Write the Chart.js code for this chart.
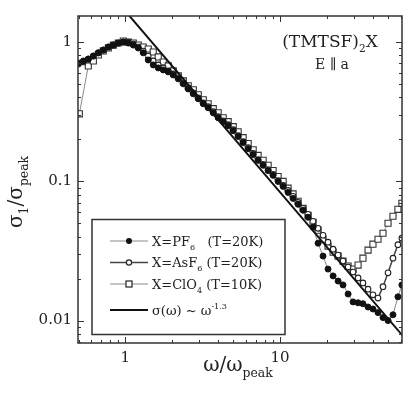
<!DOCTYPE html>
<html>
<head>
<meta charset="utf-8">
<script src="https://cdn.jsdelivr.net/npm/chart.js@4.4.1/dist/chart.umd.min.js"></script>
<style>
  html, body { margin: 0; padding: 0; background: #fff; }
  #wrap { position: relative; width: 415px; height: 399px; }
</style>
</head>
<body>
<div id="wrap"><canvas id="chart" width="415" height="399"></canvas></div>
<script>
// === data (sigma_1 / sigma_peak vs omega / omega_peak) ===

// frequency grid shared by PF6 and AsF6
const omega = [0.498, 0.536, 0.577, 0.622, 0.670, 0.721, 0.777, 0.837, 0.901, 0.971,
  1.046, 1.126, 1.213, 1.306, 1.407, 1.516, 1.633, 1.759, 1.894, 2.04,
  2.20, 2.37, 2.55, 2.75, 2.96, 3.19, 3.43, 3.70, 3.98, 4.29,
  4.62, 4.98, 5.36, 5.77, 6.22, 6.70, 7.21, 7.77, 8.37, 9.01,
  9.71, 10.46, 11.26, 12.13, 13.07, 14.08, 15.16, 16.33, 17.59, 18.94,
  20.4, 22.0, 23.7, 25.5, 27.5, 29.6, 31.9, 34.3, 37.0, 39.8,
  42.9, 46.2, 49.8, 53.6, 57.7, 61.2];

// X=PF6 (T=20K)
const pf6 = [0.704, 0.728, 0.752, 0.790, 0.833, 0.872, 0.917, 0.947, 0.979, 0.995,
  0.979, 0.947, 0.902, 0.833, 0.740, 0.682, 0.649, 0.628, 0.608, 0.578,
  0.542, 0.499, 0.459, 0.423, 0.390, 0.359, 0.336, 0.309, 0.285, 0.267,
  0.250, 0.230, 0.209, 0.189, 0.171, 0.155, 0.141, 0.130, 0.119, 0.110,
  0.0995, 0.0917, 0.0830, 0.0752, 0.0682, 0.0618, 0.0551, 0.0467, 0.0359, 0.0290,
  0.0234, 0.0209, 0.0192, 0.0180, 0.0155, 0.0136, 0.0134, 0.0132, 0.0125, 0.0121,
  0.0114, 0.0105, 0.0100, 0.0110, 0.0148, 0.0180];

// X=AsF6 (T=20K)
const asf6 = [0.693, 0.716, 0.752, 0.790, 0.833, 0.872, 0.917, 0.947, 0.979, 0.995,
  0.995, 0.963, 0.917, 0.858, 0.790, 0.728, 0.682, 0.649, 0.618, 0.588,
  0.551, 0.507, 0.467, 0.430, 0.396, 0.365, 0.342, 0.315, 0.290, 0.271,
  0.254, 0.234, 0.212, 0.192, 0.174, 0.158, 0.143, 0.132, 0.121, 0.112,
  0.101, 0.0932, 0.0858, 0.0778, 0.0704, 0.0638, 0.0578, 0.0515, 0.0459, 0.0409,
  0.0365, 0.0325, 0.0295, 0.0267, 0.0242, 0.0223, 0.0202, 0.0186, 0.0168, 0.0153,
  0.0145, 0.0175, 0.0220, 0.0280, 0.0350, 0.0390];

// X=ClO4 (T=10K)
const clo4Omega = [0.505, 0.577, 0.622, 0.670, 0.721, 0.777, 0.837, 0.901, 0.971,
  1.046, 1.126, 1.213, 1.306, 1.407, 1.516, 1.633, 1.759, 1.894, 2.04,
  2.20, 2.37, 2.55, 2.75, 2.96, 3.19, 3.43, 3.70, 3.98, 4.29,
  4.62, 4.98, 5.36, 5.77, 6.22, 6.70, 7.21, 7.77, 8.37, 9.01,
  9.71, 10.46, 11.26, 12.13, 13.07, 14.08, 15.16, 16.33, 17.59, 18.94,
  20.4, 22.0, 23.7, 25.5, 27.5, 29.6, 31.9, 34.3, 37.0, 39.8,
  42.9, 46.2, 49.8, 53.6, 57.7, 61.2];
const clo4 = [0.304, 0.671, 0.728, 0.804, 0.858, 0.902, 0.947, 0.979, 1.012,
  0.995, 0.979, 0.947, 0.917, 0.887, 0.844, 0.778, 0.716, 0.671, 0.618,
  0.569, 0.524, 0.483, 0.452, 0.416, 0.383, 0.359, 0.331, 0.309, 0.285,
  0.267, 0.246, 0.226, 0.205, 0.186, 0.168, 0.153, 0.141, 0.130, 0.119,
  0.108, 0.0995, 0.0890, 0.0810, 0.0716, 0.0638, 0.0569, 0.0507, 0.0445, 0.0383,
  0.0342, 0.0309, 0.0290, 0.0267, 0.0246, 0.0234, 0.0250, 0.0280, 0.0320, 0.0353,
  0.0383, 0.0423, 0.0499, 0.0560, 0.0628, 0.0693];

// power law sigma(omega) ~ omega^-1.3 (end points)
const lawOmega = [1.0, 61.5];
const lawSigma = [1.66, 0.00785];

// axes
const xRange = [0.495, 61.3];
const yRange = [0.0069, 1.53];
const xMajor = [1, 10];
const yMajor = [0.01, 0.1, 1];
const xTicks = [0.5, 0.6, 0.7, 0.8, 0.9, 1, 2, 3, 4, 5, 6, 7, 8, 9, 10, 20, 30, 40, 50, 60];
const yTicks = [0.007, 0.008, 0.009, 0.01, 0.02, 0.03, 0.04, 0.05, 0.06, 0.07, 0.08, 0.09,
  0.1, 0.2, 0.3, 0.4, 0.5, 0.6, 0.7, 0.8, 0.9, 1];

const FONT = "'DejaVu Serif', 'Liberation Serif', serif";
const INK = "#222";

const pts = (xs, ys) => xs.map((v, i) => ({ x: v, y: ys[i] }));

// text with sub/superscript parts: [[text, ''|'sub'|'sup'], ...]
function richText(ctx, parts, x, y, size, align) {
  const small = size * 0.62;
  const widths = parts.map(([t, k]) => {
    ctx.font = `${k ? small : size}px ${FONT}`;
    return ctx.measureText(t).width;
  });
  const total = widths.reduce((s, w) => s + w, 0);
  let cx = align === "center" ? x - total / 2 : x;
  ctx.textAlign = "left";
  ctx.textBaseline = "alphabetic";
  parts.forEach(([t, k], i) => {
    ctx.font = `${k ? small : size}px ${FONT}`;
    const dy = k === "sub" ? size * 0.32 : k === "sup" ? -size * 0.42 : 0;
    ctx.fillText(t, cx, y + dy);
    cx += widths[i];
  });
}

function seg(ctx, x1, y1, x2, y2) {
  ctx.beginPath();
  ctx.moveTo(x1, y1);
  ctx.lineTo(x2, y2);
  ctx.stroke();
}

// inward ticks on all four sides + frame
const framePlugin = {
  id: "frame",
  afterDatasetsDraw(chart) {
    const { ctx, chartArea: a, scales: { x, y } } = chart;
    ctx.save();
    ctx.strokeStyle = "#333";
    ctx.lineWidth = 1;
    xTicks.forEach(v => {
      if (v < xRange[0] || v > xRange[1]) return;
      const px = Math.round(x.getPixelForValue(v)) + 0.5;
      const len = xMajor.includes(v) ? 6 : 3;
      seg(ctx, px, a.bottom, px, a.bottom - len);
      seg(ctx, px, a.top, px, a.top + len);
    });
    yTicks.forEach(v => {
      if (v < yRange[0] || v > yRange[1]) return;
      const py = Math.round(y.getPixelForValue(v)) + 0.5;
      const len = yMajor.includes(v) ? 6 : 3;
      seg(ctx, a.left, py, a.left + len, py);
      seg(ctx, a.right, py, a.right - len, py);
    });
    ctx.lineWidth = 1.5;
    ctx.strokeRect(a.left, a.top, a.right - a.left, a.bottom - a.top);
    ctx.restore();
  },
};

// labels, axis titles and legend box
const textPlugin = {
  id: "texts",
  afterDraw(chart) {
    const { ctx } = chart;
    ctx.save();
    ctx.fillStyle = INK;

    richText(ctx, [["(TMTSF)", ""], ["2", "sub"], ["X", ""]], 330, 47, 17, "center");
    richText(ctx, [["E \u2225 a", ""]], 332, 69, 14, "center");

    richText(ctx, [["\u03c9/\u03c9", ""], ["peak", "sub"]], 238, 371, 20, "center");

    ctx.save();
    ctx.translate(22, 192);
    ctx.rotate(-Math.PI / 2);
    richText(ctx, [["\u03c3", ""], ["1", "sub"], ["/\u03c3", ""], ["peak", "sub"]], 0, 0, 20, "center");
    ctx.restore();

    // legend
    const box = { l: 92, t: 219.5, r: 285, b: 334.5 };
    ctx.fillStyle = "#fff";
    ctx.fillRect(box.l, box.t, box.r - box.l, box.b - box.t);
    ctx.strokeStyle = "#333";
    ctx.lineWidth = 1.5;
    ctx.strokeRect(box.l, box.t, box.r - box.l, box.b - box.t);

    const rows = [
      { y: 241, color: "#8a8a8a", w: 1, mark: "dot", parts: [["X=PF", ""], ["6", "sub"], ["   (T=20K)", ""]] },
      { y: 262.5, color: "#444", w: 1.6, mark: "circle", parts: [["X=AsF", ""], ["6", "sub"], [" (T=20K)", ""]] },
      { y: 284, color: "#8a8a8a", w: 1, mark: "square", parts: [["X=ClO", ""], ["4", "sub"], [" (T=10K)", ""]] },
      { y: 310, color: "#111", w: 2, mark: null, parts: [["\u03c3(\u03c9) ~ \u03c9", ""], ["-1.3", "sup"]] },
    ];
    rows.forEach(r => {
      ctx.strokeStyle = r.color;
      ctx.lineWidth = r.w;
      seg(ctx, 110, r.y, 148, r.y);
      ctx.lineWidth = 1.2;
      ctx.strokeStyle = "#222";
      if (r.mark === "dot") {
        ctx.fillStyle = "#111";
        ctx.beginPath(); ctx.arc(129, r.y, 3, 0, Math.PI * 2); ctx.fill();
      } else if (r.mark === "circle") {
        ctx.fillStyle = "#fff";
        ctx.beginPath(); ctx.arc(129, r.y, 2.6, 0, Math.PI * 2); ctx.fill(); ctx.stroke();
      } else if (r.mark === "square") {
        ctx.fillStyle = "#fff";
        ctx.fillRect(126, r.y - 3, 6, 6); ctx.strokeRect(126, r.y - 3, 6, 6);
      }
      ctx.fillStyle = INK;
      richText(ctx, r.parts, 152, r.y + 4.5, 13, "left");
    });
    ctx.restore();
  },
};

new Chart(document.getElementById("chart"), {
  type: "line",
  data: {
    datasets: [
      {
        label: "law",
        data: pts(lawOmega, lawSigma),
        borderColor: "#111",
        borderWidth: 2,
        pointRadius: 0,
      },
      {
        label: "PF6",
        data: pts(omega, pf6),
        borderColor: "#8a8a8a",
        borderWidth: 1,
        pointStyle: "circle",
        pointRadius: 3,
        pointBackgroundColor: "#111",
        pointBorderColor: "#111",
        pointBorderWidth: 1,
      },
      {
        label: "AsF6",
        data: pts(omega, asf6),
        borderColor: "#444",
        borderWidth: 1.5,
        pointStyle: "circle",
        pointRadius: 2.8,
        pointBackgroundColor: "#fff",
        pointBorderColor: "#222",
        pointBorderWidth: 1.1,
      },
      {
        label: "ClO4",
        data: pts(clo4Omega, clo4),
        borderColor: "#8a8a8a",
        borderWidth: 1,
        pointStyle: "rect",
        pointRadius: 4.3,
        pointBackgroundColor: "#fff",
        pointBorderColor: "#333",
        pointBorderWidth: 1.1,
      },
    ],
  },
  options: {
    responsive: false,
    animation: false,
    devicePixelRatio: 1,
    layout: { padding: { top: 16, right: 13, left: 0, bottom: 0 } },
    plugins: { legend: { display: false }, tooltip: { enabled: false } },
    elements: { line: { tension: 0 } },
    scales: {
      x: {
        type: "logarithmic",
        min: xRange[0],
        max: xRange[1],
        afterBuildTicks: s => { s.ticks = xMajor.map(v => ({ value: v })); },
        afterFit: s => { s.height = 56; },
        grid: { display: false, drawTicks: false },
        border: { display: false },
        ticks: {
          color: INK,
          font: { family: FONT, size: 15 },
          padding: 6,
          maxRotation: 0,
          autoSkip: false,
          callback: v => String(v),
        },
      },
      y: {
        type: "logarithmic",
        min: yRange[0],
        max: yRange[1],
        afterBuildTicks: s => { s.ticks = yMajor.map(v => ({ value: v })); },
        afterFit: s => { s.width = 78; },
        grid: { display: false, drawTicks: false },
        border: { display: false },
        ticks: {
          color: INK,
          font: { family: FONT, size: 15 },
          padding: 6,
          autoSkip: false,
          callback: v => String(v),
        },
      },
    },
  },
  plugins: [framePlugin, textPlugin],
});
</script>
</body>
</html>
